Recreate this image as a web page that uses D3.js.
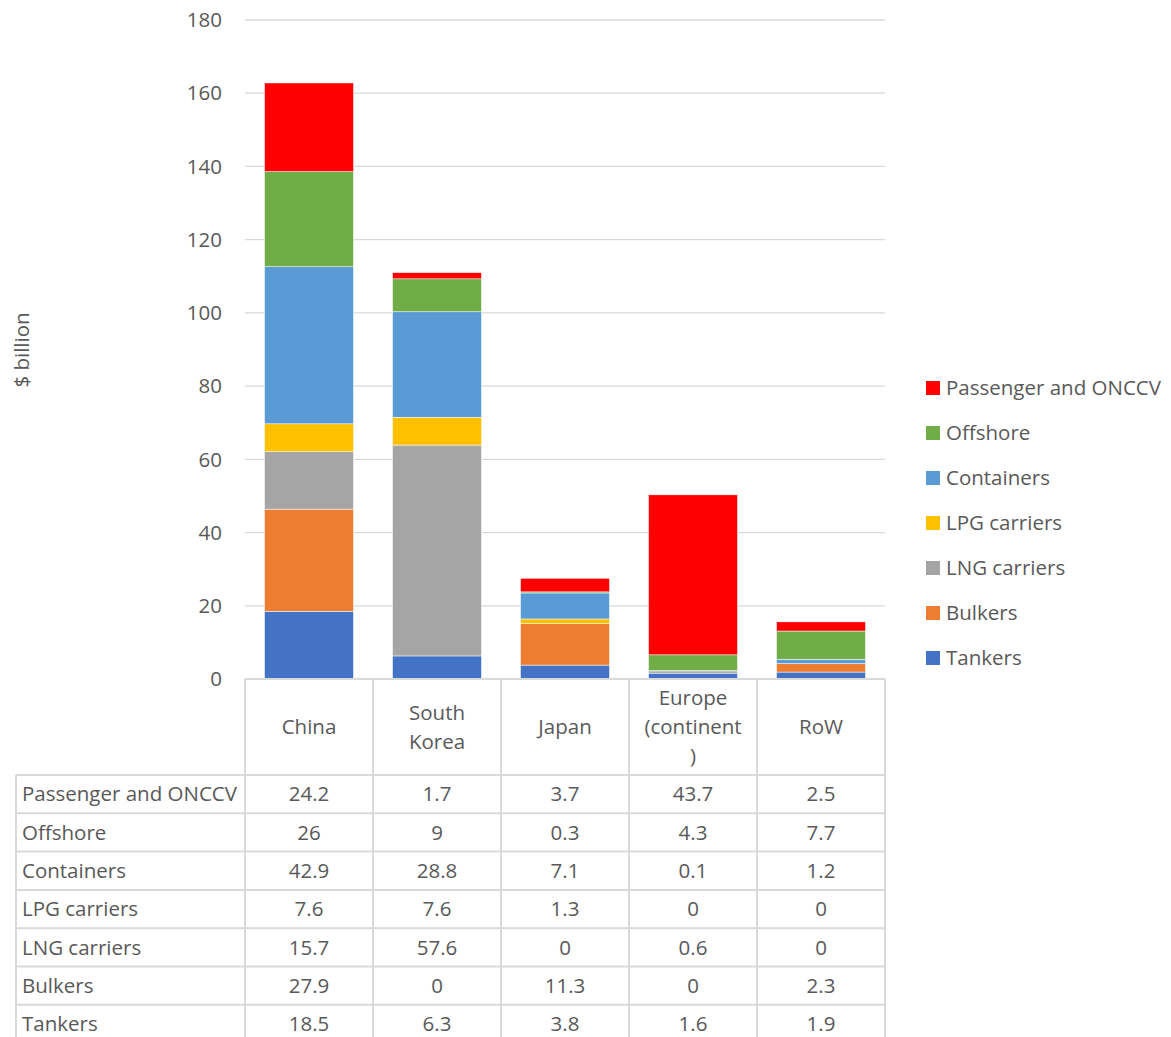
<!DOCTYPE html>
<html>
<head>
<meta charset="utf-8">
<script src="https://cdn.jsdelivr.net/npm/d3@7"></script>
<style>
  body { margin: 0; background: #fff; }
  text { font-family: "Open Sans", "Noto Sans", sans-serif; fill: #595959; }
</style>
</head>
<body>
<div id="chart"></div>
<script>
const regions = ['China', 'South Korea', 'Japan', 'Europe (continent )', 'RoW'];
const headerLines = [['China'], ['South', 'Korea'], ['Japan'], ['Europe', '(continent', ')'], ['RoW']];
const series = ['Tankers', 'Bulkers', 'LNG carriers', 'LPG carriers', 'Containers', 'Offshore', 'Passenger and ONCCV'];
const colors = ['#4472C4', '#ED7D31', '#A5A5A5', '#FFC000', '#5B9BD5', '#70AD47', '#FF0000'];
const tankers = [18.5, 6.3, 3.8, 1.6, 1.9];
const bulkers = [27.9, 0, 11.3, 0, 2.3];
const lng = [15.7, 57.6, 0, 0.6, 0];
const lpg = [7.6, 7.6, 1.3, 0, 0];
const containers = [42.9, 28.8, 7.1, 0.1, 1.2];
const offshore = [26, 9, 0.3, 4.3, 7.7];
const passenger = [24.2, 1.7, 3.7, 43.7, 2.5];
const yTicks = [0, 20, 40, 60, 80, 100, 120, 140, 160, 180];

const values = [tankers, bulkers, lng, lpg, containers, offshore, passenger];
const rows = regions.map((r, i) => {
  const o = { region: r };
  series.forEach((s, j) => o[s] = values[j][i]);
  return o;
});

const W = 1171, H = 1037;
const plotLeft = 245, plotRight = 885, plotTop = 20, zeroY = 679;
const tableLeft = 16, headerBottom = 775, rowH = 38.3;
const fs = 20.5;

const svg = d3.select('#chart').append('svg').attr('width', W).attr('height', H);

const x = d3.scaleBand().domain(regions).range([plotLeft, plotRight]).paddingInner(0.305).paddingOuter(0.1525);
const cell = d3.scaleBand().domain(regions).range([plotLeft, plotRight]);
const y = d3.scaleLinear().domain([0, 180]).range([zeroY, plotTop]);

// gridlines
svg.append('g').selectAll('line').data(yTicks.slice(1)).join('line')
  .attr('x1', plotLeft).attr('x2', plotRight)
  .attr('y1', d => y(d)).attr('y2', d => y(d))
  .attr('stroke', '#d9d9d9').attr('stroke-width', 1.3);

// y axis labels
svg.append('g').selectAll('text').data(yTicks).join('text')
  .attr('x', 222).attr('y', d => y(d)).attr('dy', '0.35em')
  .attr('text-anchor', 'end').attr('font-size', fs)
  .text(d => d);

svg.append('text')
  .attr('transform', 'translate(29,350) rotate(-90)')
  .attr('text-anchor', 'middle').attr('font-size', fs)
  .text('$ billion');

// stacked bars
const stacked = d3.stack().keys(series)(rows);
svg.append('g').selectAll('g').data(stacked).join('g')
  .attr('fill', (d, i) => colors[i])
  .selectAll('rect').data(d => d).join('rect')
  .attr('x', d => x(d.data.region))
  .attr('width', x.bandwidth())
  .attr('y', d => y(d[1]))
  .attr('height', d => y(d[0]) - y(d[1]))
  .attr('stroke', '#fff').attr('stroke-width', 0.5);

// data table
const grid = svg.append('g').attr('stroke', '#d9d9d9').attr('stroke-width', 2);
const tableBottom = headerBottom + rowH * series.length;
grid.append('line').attr('x1', plotLeft).attr('x2', plotRight).attr('y1', zeroY).attr('y2', zeroY);
d3.range(series.length + 1).forEach(i => {
  const yy = headerBottom + i * rowH;
  grid.append('line').attr('x1', tableLeft).attr('x2', plotRight).attr('y1', yy).attr('y2', yy);
});
grid.append('line').attr('x1', tableLeft).attr('x2', tableLeft).attr('y1', headerBottom).attr('y2', tableBottom);
regions.forEach(r => {
  grid.append('line').attr('x1', cell(r)).attr('x2', cell(r)).attr('y1', zeroY).attr('y2', tableBottom);
});
grid.append('line').attr('x1', plotRight).attr('x2', plotRight).attr('y1', zeroY).attr('y2', tableBottom);

// header text
const headerMid = (zeroY + headerBottom) / 2;
regions.forEach((r, i) => {
  const lines = headerLines[i];
  const t = svg.append('text').attr('text-anchor', 'middle').attr('font-size', fs);
  lines.forEach((l, k) => {
    t.append('tspan')
      .attr('x', cell(r) + cell.bandwidth() / 2)
      .attr('y', headerMid + (k - (lines.length - 1) / 2) * 29)
      .attr('dy', '0.35em')
      .text(l);
  });
});

// table rows, top to bottom is the reversed series order
const tableSeries = series.slice().reverse();
tableSeries.forEach((s, i) => {
  const cy = headerBottom + i * rowH + rowH / 2;
  svg.append('text').attr('x', 22).attr('y', cy).attr('dy', '0.35em')
    .attr('font-size', fs).text(s);
  const vals = values[series.indexOf(s)];
  regions.forEach((r, j) => {
    svg.append('text')
      .attr('x', cell(r) + cell.bandwidth() / 2).attr('y', cy).attr('dy', '0.35em')
      .attr('text-anchor', 'middle').attr('font-size', fs)
      .text(vals[j]);
  });
});

// legend
const legend = svg.append('g').selectAll('g').data(tableSeries).join('g')
  .attr('transform', (d, i) => `translate(926,${388 + i * 45})`);
legend.append('rect').attr('x', 0).attr('y', -7).attr('width', 14).attr('height', 14)
  .attr('fill', d => colors[series.indexOf(d)]);
legend.append('text').attr('x', 20).attr('y', 0).attr('dy', '0.35em')
  .attr('font-size', fs).text(d => d);
</script>
</body>
</html>
